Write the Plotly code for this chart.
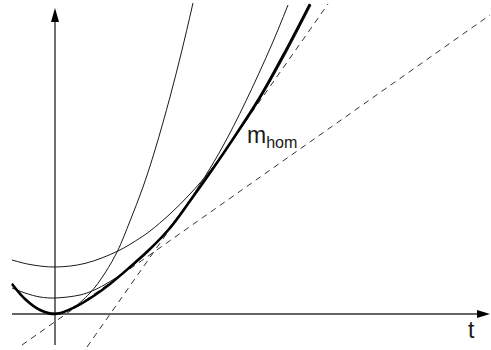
import plotly.graph_objects as go

# m_hom (thick curve)
t_hom = [-0.43, -0.30, -0.15, 0.0, 0.20, 0.40, 0.55, 0.75, 0.95, 1.15, 1.35, 1.57, 1.80, 2.05, 2.30, 2.55]
m_hom = [0.30, 0.15, 0.04, 0.0, 0.07, 0.19, 0.30, 0.47, 0.65, 0.86, 1.13, 1.44, 1.78, 2.17, 2.62, 3.10]

# thin parabolas
t_p1 = [-0.43, -0.30, -0.15, 0.0, 0.15, 0.35, 0.50, 0.63, 0.75, 0.88, 1.00, 1.15, 1.27, 1.38]
m_p1 = [0.31, 0.15, 0.045, 0.01, 0.045, 0.21, 0.41, 0.64, 0.93, 1.27, 1.64, 2.17, 2.64, 3.11]

t_p2 = [-0.43, -0.30, -0.15, 0.0, 0.25, 0.37, 0.50, 0.75, 1.00, 1.25, 1.50, 1.68, 1.90, 2.17, 2.33]
m_p2 = [0.26, 0.21, 0.17, 0.16, 0.19, 0.23, 0.295, 0.46, 0.70, 1.00, 1.375, 1.68, 2.11, 2.70, 3.09]

t_p3 = [-0.43, -0.25, 0.0, 0.30, 0.63, 0.85, 0.95, 1.15, 1.35, 1.55, 1.80, 2.05, 2.30, 2.56]
m_p3 = [0.54, 0.495, 0.47, 0.506, 0.63, 0.76, 0.83, 1.00, 1.20, 1.43, 1.77, 2.15, 2.59, 3.09]

# dashed tangent lines
t_d1 = [-0.33, 4.35]
m_d1 = [-0.31, 2.99]
t_d2 = [0.32, 2.73]
m_d2 = [-0.33, 3.10]

# axes extents
t_axis = [-0.43, 4.35]
m_axis = [-0.31, 3.06]

labels = {"curve": "m<sub>hom</sub>", "t": "t"}

fig = go.Figure()
thin = dict(color="#1a1a1a", width=1)
for tt, mm in [(t_p1, m_p1), (t_p2, m_p2), (t_p3, m_p3)]:
    fig.add_trace(go.Scatter(x=tt, y=mm, mode="lines", line=dict(shape="spline", smoothing=1.0, **thin),
                             hoverinfo="skip", showlegend=False))
for tt, mm in [(t_d1, m_d1), (t_d2, m_d2)]:
    fig.add_trace(go.Scatter(x=tt, y=mm, mode="lines", line=dict(color="#333333", width=1, dash="6px,5px"),
                             hoverinfo="skip", showlegend=False))
fig.add_trace(go.Scatter(x=t_hom, y=m_hom, mode="lines",
                         line=dict(color="#000000", width=2.6, shape="spline", smoothing=1.0),
                         hoverinfo="skip", showlegend=False))

axis_col = "#333333"
# horizontal axis line + arrow
fig.add_shape(type="line", x0=t_axis[0], y0=0, x1=t_axis[1] - 0.1, y1=0, line=dict(color=axis_col, width=1.4), layer="below")
fig.add_shape(type="path", path=f"M {t_axis[1]} 0 L {t_axis[1]-0.13} 0.04 L {t_axis[1]-0.13} -0.04 Z",
              fillcolor="#000000", line=dict(color="#000000", width=0))
# vertical axis line + arrow
fig.add_shape(type="line", x0=0, y0=m_axis[0], x1=0, y1=m_axis[1] - 0.1, line=dict(color=axis_col, width=1.4), layer="below")
fig.add_shape(type="path", path=f"M 0 {m_axis[1]} L -0.04 {m_axis[1]-0.14} L 0.04 {m_axis[1]-0.14} Z",
              fillcolor="#000000", line=dict(color="#000000", width=0))

fig.add_annotation(x=1.90, y=1.78, text=labels["curve"], showarrow=False, xanchor="left", yanchor="middle",
                   font=dict(family="Liberation Sans, Arial, sans-serif", size=23, color="#1a1a1a"))
fig.add_annotation(x=4.16, y=-0.16, text=labels["t"], showarrow=False, xanchor="center", yanchor="middle",
                   font=dict(family="Liberation Sans, Arial, sans-serif", size=23, color="#1a1a1a"))

fig.update_layout(
    width=491, height=350,
    margin=dict(l=0, r=0, t=0, b=0),
    paper_bgcolor="white", plot_bgcolor="white",
    xaxis=dict(range=[-0.55, 4.36], visible=False, fixedrange=True),
    yaxis=dict(range=[-0.36, 3.14], visible=False, fixedrange=True),
)
fig.write_html("out.html", config={"displayModeBar": False},
               post_script="document.body.style.margin='0';document.body.style.padding='0';")
